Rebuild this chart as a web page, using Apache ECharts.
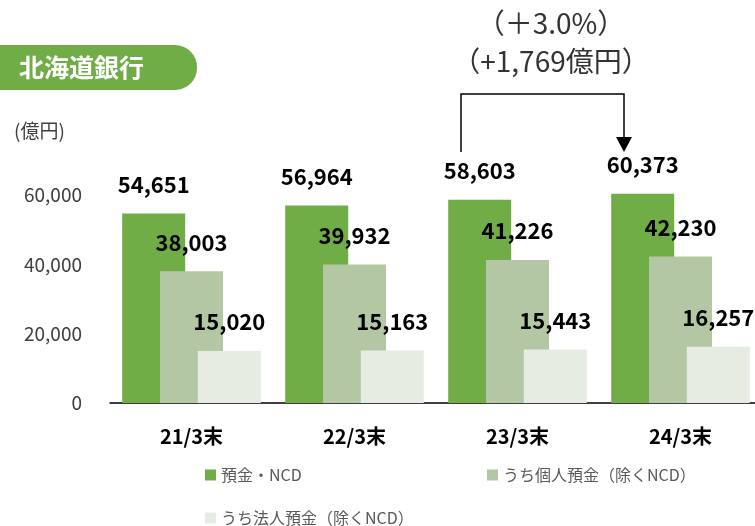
<!DOCTYPE html>
<html>
<head>
<meta charset="utf-8">
<script src="https://cdn.jsdelivr.net/npm/echarts@6/dist/echarts.min.js"></script>
<style>
    html, body { margin: 0; padding: 0; background: #fff; overflow: hidden; }
    /* a bit wider than the window: the last bar group runs off the right edge */
    #chart { width: 762px; height: 526px; }
</style>
</head>
<body>
<div id="chart"></div>
<script>
// data
const categories = ['21/3末', '22/3末', '23/3末', '24/3末']
const seriesNames = ['預金・NCD', 'うち個人預金（除くNCD）', 'うち法人預金（除くNCD）']
const deposits = [54651, 56964, 58603, 60373]
const personal = [38003, 39932, 41226, 42230]
const corporate = [15020, 15163, 15443, 16257]
const yTicks = [0, 20000, 40000, 60000]
const colors = ['#70AD47', '#B4C7A4', '#E6ECE1']

const font = '"Noto Sans CJK JP", "Noto Sans", sans-serif'

const chart = echarts.init(document.getElementById('chart'))

const makeSeries = (name, values) => ({
    name: name,
    type: 'bar',
    data: values,
    barWidth: 63,
    barGap: '-40%',
    clip: false,
    label: {
        show: true,
        position: 'top',
        distance: 18,
        fontFamily: font,
        fontSize: 22,
        fontWeight: 'bold',
        color: '#000',
        formatter: (p) => p.value.toLocaleString('en-US'),
    },
})

const legendItem = (name, left, top) => ({
    data: [name],
    left: left,
    top: top,
    itemWidth: 11,
    itemHeight: 11,
    icon: 'rect',
    textStyle: { fontFamily: font, fontSize: 16, color: '#595959' },
})

chart.setOption({
    color: colors,
    animation: false,
    textStyle: { fontFamily: font },
    grid: { left: 110, right: 0, top: 195, bottom: 123 },
    legend: [
        legendItem(seriesNames[0], 200, 462),
        legendItem(seriesNames[1], 482, 462),
        legendItem(seriesNames[2], 200, 505),
    ],
    xAxis: {
        type: 'category',
        data: categories,
        axisTick: { show: false },
        axisLine: { lineStyle: { color: '#000', width: 1.5 } },
        axisLabel: {
            margin: 23,
            fontFamily: font,
            fontSize: 20,
            fontWeight: 'bold',
            color: '#000',
        },
    },
    yAxis: {
        type: 'value',
        min: 0,
        max: yTicks[yTicks.length - 1],
        interval: yTicks[1] - yTicks[0],
        axisLine: { show: false },
        axisTick: { show: false },
        splitLine: { show: false },
        axisLabel: {
            margin: 28,
            fontFamily: font,
            fontSize: 19,
            color: '#404040',
            formatter: (v) => v.toLocaleString('en-US'),
        },
    },
    graphic: [
        {
            type: 'rect',
            shape: { x: 0, y: 45, width: 197, height: 45, r: [0, 22, 22, 0] },
            style: { fill: '#70AD47' },
        },
        {
            type: 'text',
            x: 19, y: 67,
            style: {
                text: '北海道銀行',
                fill: '#fff',
                font: 'bold 25px ' + font,
                verticalAlign: 'middle',
            },
        },
        {
            type: 'text',
            x: 14, y: 131,
            style: {
                text: '(億円)',
                fill: '#404040',
                font: '19px ' + font,
                verticalAlign: 'middle',
            },
        },
        {
            type: 'text',
            x: 551, y: 23,
            style: {
                text: '（＋3.0%）',
                fill: '#333',
                font: '28px ' + font,
                align: 'center',
                verticalAlign: 'middle',
            },
        },
        {
            type: 'text',
            x: 551, y: 61,
            style: {
                text: '（+1,769億円）',
                fill: '#333',
                font: '28px ' + font,
                align: 'center',
                verticalAlign: 'middle',
            },
        },
        {
            type: 'polyline',
            shape: { points: [[461, 152], [461, 94], [624, 94], [624, 138]] },
            style: { stroke: '#000', lineWidth: 1.5, fill: null },
        },
        {
            type: 'polygon',
            shape: { points: [[616, 137], [632, 137], [624, 152]] },
            style: { fill: '#000' },
        },
    ],
    series: [
        makeSeries(seriesNames[0], deposits),
        makeSeries(seriesNames[1], personal),
        makeSeries(seriesNames[2], corporate),
    ],
})
</script>
</body>
</html>
